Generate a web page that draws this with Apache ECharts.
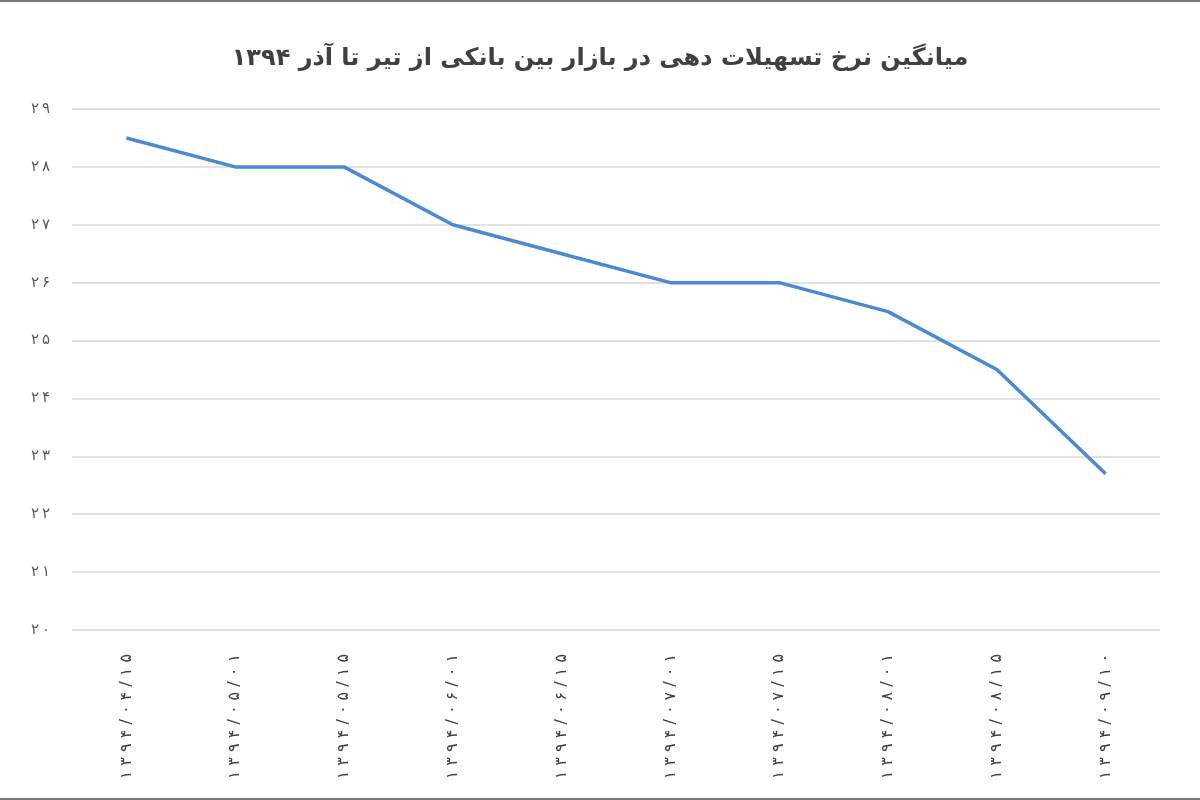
<!DOCTYPE html>
<html>
<head>
<meta charset="utf-8">
<script src="https://cdn.jsdelivr.net/npm/echarts@6/dist/echarts.min.js"></script>
<style>
  html, body { margin: 0; padding: 0; background: #fff; }
  #main { width: 1200px; height: 800px; box-sizing: border-box; border-top: 2px solid #7a7a7a; border-bottom: 2px solid #7a7a7a; }
</style>
</head>
<body>
<div id="main"></div>
<script>
// dates (Persian digits)
var dates = ['۱۳۹۴/۰۴/۱۵', '۱۳۹۴/۰۵/۰۱', '۱۳۹۴/۰۵/۱۵', '۱۳۹۴/۰۶/۰۱', '۱۳۹۴/۰۶/۱۵',
             '۱۳۹۴/۰۷/۰۱', '۱۳۹۴/۰۷/۱۵', '۱۳۹۴/۰۸/۰۱', '۱۳۹۴/۰۸/۱۵', '۱۳۹۴/۰۹/۱۰'];
var rates = [28.5, 28, 28, 27, 26.5, 26, 26, 25.5, 24.5, 22.7];
var faDigits = ['۰', '۱', '۲', '۳', '۴', '۵', '۶', '۷', '۸', '۹'];

function toFa(n) {
  return String(n).replace(/[0-9]/g, function (d) { return faDigits[+d]; });
}
// spread the glyphs a bit, like the original Excel rendering
function spaced(s, sep) {
  return s.split('').join(sep);
}

var chart = echarts.init(document.getElementById('main'));

var option = {
  backgroundColor: '#ffffff',
  animation: false,
  title: {
    text: 'میانگین نرخ تسهیلات دهی در بازار بین بانکی از تیر تا آذر ۱۳۹۴',
    left: 'center',
    top: 40,
    textStyle: {
      fontFamily: 'DejaVu Sans',
      fontSize: 24,
      fontWeight: 'bold',
      color: '#404040'
    }
  },
  grid: {
    left: 72,
    right: 40,
    top: 107,
    bottom: 168
  },
  xAxis: {
    type: 'category',
    data: dates,
    boundaryGap: true,
    axisLine: { show: false },
    axisTick: { show: false },
    axisLabel: {
      rotate: 90,
      margin: 24,
      fontSize: 16,
      color: '#404040',
      fontFamily: 'DejaVu Sans',
      formatter: function (v) { return spaced(v, ' '); }
    }
  },
  yAxis: {
    type: 'value',
    min: 20,
    max: 29,
    interval: 1,
    axisLine: { show: false },
    axisTick: { show: false },
    axisLabel: {
      margin: 22,
      fontSize: 15,
      color: '#595959',
      fontFamily: 'DejaVu Sans',
      formatter: function (v) { return spaced(toFa(v), '\u2009'); }
    },
    splitLine: { lineStyle: { color: '#d9d9d9', width: 1.5 } }
  },
  series: [{
    type: 'line',
    data: rates,
    showSymbol: false,
    lineStyle: { color: '#4a8ad2', width: 3.5 },
    itemStyle: { color: '#4a8ad2' }
  }]
};

chart.setOption(option);
</script>
</body>
</html>
